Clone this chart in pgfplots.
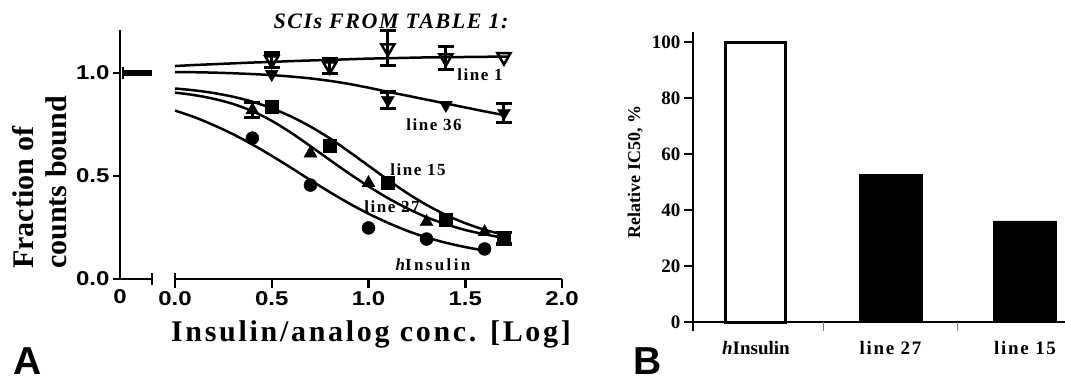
\documentclass[border=0pt]{standalone}
\usepackage{fontspec}
\setmainfont{Liberation Serif}
\newfontfamily\tickA{Liberation Sans}[FakeStretch=1.2]
\newfontfamily\spaced{Liberation Serif}[LetterSpace=9]
\newfontfamily\spacedB{Liberation Serif}[LetterSpace=14]
\newfontfamily\xlab{Liberation Serif}[LetterSpace=9]
\newfontfamily\titlef{Liberation Serif}[LetterSpace=7]
\newfontfamily\panelf{Liberation Sans}
\usepackage{pgfplots}
\pgfplotsset{compat=1.18}
\newcommand{\fs}[1]{\fontsize{#1}{#1}\selectfont}

\begin{document}
\begin{tikzpicture}[x=1pt,y=1pt]
\path[use as bounding box] (0,0) rectangle (1065,-381);

% ---------- Panel A: left segment (x = 0) ----------
\begin{axis}[
  at={(120pt,-279pt)}, anchor=south west, scale only axis,
  width=32pt, height=249pt,
  xmin=0, xmax=1, ymin=0, ymax=1.209,
  axis x line=bottom, axis y line=left,
  axis line style={-, line width=2.5pt},
  tick style={black, line width=2.5pt},
  tick align=outside, major tick length=7pt,
  ytick={0,0.5,1}, yticklabels={0.0,0.5,1.0},
  xtick={0}, xticklabels={0}, xtick style={draw=none},
  tick label style={font=\tickA\bfseries\fs{20}},
  clip=false,
]
\addplot[line width=6pt] coordinates {(0.1,1.0) (1.0,1.0)};
\addplot[line width=2.5pt] coordinates {(0.1,0.97) (0.1,1.03)};
\draw[line width=2.5pt] (axis cs:1,0) ++(0pt,-6pt) -- ++(0pt,12pt);
\end{axis}

% ---------- Panel A: main segment ----------
\begin{axis}[
  at={(175pt,-279pt)}, anchor=south west, scale only axis,
  width=387pt, height=249pt,
  xmin=0, xmax=2, ymin=0, ymax=1.209,
  axis x line=bottom, axis y line=none, ytick=\empty,
  axis line style={-, line width=2.5pt},
  tick style={black, line width=2.5pt},
  tick align=outside, major tick length=9pt,
  xtick={0,0.5,1,1.5,2}, xticklabels={0.0,0.5,1.0,1.5,2.0},
  tick label style={font=\tickA\bfseries\fs{20}},
  clip=false,
  error bars/error bar style={line width=3pt},
  error bars/error mark options={rotate=90, line width=3.5pt, mark size=8pt},
]
\draw[line width=2.5pt] (axis cs:0,0) ++(0pt,-6pt) -- ++(0pt,12pt);
% fitted curves
\addplot[line width=2.5pt, smooth] coordinates {
 (0,1.034) (0.1,1.039) (0.2,1.043) (0.3,1.047) (0.4,1.051) (0.5,1.054) (0.6,1.058)
 (0.7,1.061) (0.8,1.064) (0.9,1.067) (1.0,1.070) (1.1,1.072) (1.2,1.074) (1.3,1.076)
 (1.4,1.077) (1.5,1.078) (1.6,1.079) (1.72,1.080)};
\addplot[line width=2.5pt, smooth] coordinates {
 (0,1.005) (0.1,1.004) (0.2,1.002) (0.3,0.999) (0.4,0.995) (0.5,0.990) (0.6,0.983)
 (0.7,0.974) (0.8,0.962) (0.9,0.947) (1.0,0.929) (1.1,0.909) (1.2,0.890) (1.3,0.871)
 (1.4,0.852) (1.5,0.833) (1.6,0.814) (1.7,0.796)};
\addplot[line width=2.5pt, smooth] coordinates {
 (0,0.925) (0.1,0.916) (0.2,0.903) (0.3,0.885) (0.4,0.861) (0.5,0.829) (0.6,0.789)
 (0.7,0.740) (0.8,0.683) (0.9,0.618) (1.0,0.550) (1.1,0.482) (1.2,0.417) (1.3,0.360)
 (1.4,0.311) (1.5,0.271) (1.6,0.239) (1.7,0.215)};
\addplot[line width=2.5pt, smooth] coordinates {
 (0,0.905) (0.1,0.893) (0.2,0.875) (0.3,0.850) (0.4,0.815) (0.5,0.768) (0.6,0.710)
 (0.7,0.645) (0.8,0.578) (0.9,0.512) (1.0,0.450) (1.1,0.393) (1.2,0.343) (1.3,0.300)
 (1.4,0.266) (1.5,0.238) (1.6,0.217) (1.7,0.200)};
\addplot[line width=2.5pt, smooth] coordinates {
 (0,0.818) (0.1,0.786) (0.2,0.747) (0.3,0.703) (0.4,0.653) (0.5,0.598) (0.6,0.540)
 (0.7,0.480) (0.8,0.422) (0.9,0.367) (1.0,0.317) (1.1,0.273) (1.2,0.234) (1.3,0.202)
 (1.4,0.176) (1.5,0.155) (1.6,0.138)};
% data points
\addplot[only marks, mark=triangle, mark size=7.5pt,
  mark options={rotate=180, fill=white, line width=2.5pt},
  error bars/.cd, y dir=both, y explicit] coordinates {
 (0.5,1.063) +- (0,0.035) (0.8,1.034) +- (0,0.035) (1.1,1.121) +- (0,0.085)
 (1.4,1.073) +- (0,0.055)};
\addplot[only marks, mark=triangle, mark size=7.5pt,
  mark options={rotate=180, fill=white, line width=2.5pt}] coordinates {(1.7,1.078)};
\addplot[only marks, mark=triangle*, mark size=7.5pt,
  mark options={rotate=180},
  error bars/.cd, y dir=both, y explicit] coordinates {
 (1.1,0.869) +- (0,0.04) (1.7,0.806) +- (0,0.045)};
\addplot[only marks, mark=triangle*, mark size=7.5pt,
  mark options={rotate=180}] coordinates {(0.5,0.995) (1.4,0.845)};
\addplot[only marks, mark=square*, mark size=6.5pt] coordinates {
 (0.5,0.835) (0.8,0.646) (1.1,0.466) (1.4,0.286)};
\addplot[only marks, mark=square*, mark size=6.5pt,
  error bars/.cd, y dir=both, y explicit] coordinates {(1.7,0.199) +- (0,0.028)};
\addplot[only marks, mark=triangle*, mark size=7.5pt,
  error bars/.cd, y dir=both, y explicit] coordinates {(0.4,0.820) +- (0,0.036)};
\addplot[only marks, mark=triangle*, mark size=7.5pt] coordinates {
 (0.7,0.610) (1.0,0.466) (1.3,0.277) (1.6,0.228)};
\addplot[only marks, mark=*, mark size=6.5pt] coordinates {
 (0.4,0.684) (0.7,0.456) (1.0,0.248) (1.3,0.194) (1.6,0.146)};
\end{axis}

% Panel A texts
\node[font=\titlef\bfseries\itshape\fs{22}, anchor=base] at (391,-28) {SCIs FROM TABLE 1:};
\node[font=\spaced\bfseries\fs{17}, anchor=base] at (480,-80) {line 1};
\node[font=\spaced\bfseries\fs{17}, anchor=base] at (434,-130) {line 36};
\node[font=\spaced\bfseries\fs{17}, anchor=base] at (418,-175) {line 15};
\node[font=\spaced\bfseries\fs{17}, anchor=base] at (392,-212) {line 27};
\node[font=\spacedB\bfseries\fs{17}, anchor=base] at (433,-270) {{\itshape h}Insulin};
\node[font=\xlab\bfseries\fs{30}, anchor=base] at (371,-341) {Insulin/analog conc. [Log]};
\node[font=\bfseries\fontsize{30}{33}\selectfont, rotate=90, anchor=north west,
      align=left, inner sep=0pt] at (12,-269) {Fraction of\\counts bound};
\node[font=\panelf\bfseries\fs{39}, anchor=base west, inner sep=0pt] at (13,-374) {A};

% ---------- Panel B ----------
\begin{axis}[
  at={(693pt,-322pt)}, anchor=south west, scale only axis,
  width=372pt, height=290pt,
  xmin=-0.468, xmax=2.297, ymin=0, ymax=103.6,
  axis x line=bottom, axis y line=left,
  axis line style={-, line width=2pt},
  tick style={black, line width=2pt},
  tick align=outside, major tick length=9pt,
  ytick={0,20,40,60,80,100}, yticklabels={0,20,40,60,80,100},
  yticklabel style={font=\bfseries\fs{19}},
  xtick={0,1,2},
  xticklabels={{{\itshape h}Insulin},{\spaced line 27},{\spaced line 15}},
  xtick style={draw=none},
  xticklabel style={font=\bfseries\fs{19}, yshift=-7pt},
  clip=false,
]
\addplot[ybar, bar width=60pt, bar shift=0pt, fill=white, draw=black, line width=3pt]
  coordinates {(0,100)};
\addplot[ybar, bar width=63pt, bar shift=0pt, fill=black, draw=black, line width=0.5pt]
  coordinates {(1,52.7) (2,36.1)};
\draw[black!50, line width=0.8pt] (axis cs:0.5,0) -- ++(0pt,-9pt);
\draw[black!50, line width=0.8pt] (axis cs:1.5,0) -- ++(0pt,-9pt);
\draw[line width=2pt] (axis cs:-0.468,0) -- ++(0pt,-9pt);
\end{axis}
\node[font=\bfseries\fs{18}, rotate=90, anchor=base] at (640,-172) {Relative IC50, \%};
\node[font=\panelf\bfseries\fs{39}, anchor=base west, inner sep=0pt] at (633,-374) {B};
\end{tikzpicture}
\end{document}
